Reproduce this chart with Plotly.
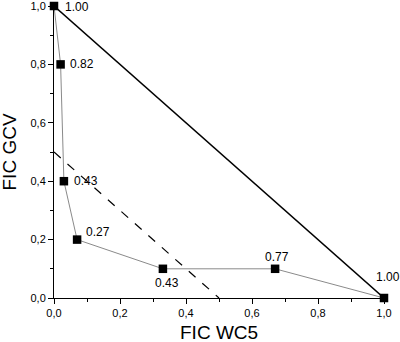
import plotly.graph_objects as go

fic_wc5 = [0.0, 0.02, 0.03, 0.07, 0.33, 0.67, 1.0]
fic_gcv = [1.0, 0.8, 0.4, 0.2, 0.1, 0.1, 0.0]
point_labels = ["1.00", "0.82", "0.43", "0.27", "0.43", "0.77", "1.00"]

additive_x = [0.0, 1.0]
additive_y = [1.0, 0.0]
synergy_x = [0.0, 0.5]
synergy_y = [0.5, 0.0]

FONT = "Liberation Sans, Arial"

# label offsets in pixels (style)
label_dx = [23, 21, 22, 21, 4, 2, 4]
label_dy = [-1, 0, 0, 8, -14, 12, 21]

fig = go.Figure()
fig.add_trace(go.Scatter(x=additive_x, y=additive_y, mode="lines",
                         line=dict(color="black", width=1.5), cliponaxis=False))
fig.add_trace(go.Scatter(x=synergy_x, y=synergy_y, mode="lines",
                         line=dict(color="black", width=1.2, dash="dash"), cliponaxis=False))
fig.add_trace(go.Scatter(x=fic_wc5, y=fic_gcv, mode="lines+markers",
                         line=dict(color="#8a8a8a", width=1),
                         marker=dict(symbol="square", size=8.5, color="black"),
                         cliponaxis=False))

for xv, yv, t, dx, dy in zip(fic_wc5, fic_gcv, point_labels, label_dx, label_dy):
    fig.add_annotation(x=xv, y=yv, text=t, showarrow=False, xanchor="center",
                       yanchor="middle", xshift=dx, yshift=dy,
                       font=dict(family=FONT, size=12, color="black"))

axis_common = dict(
    range=[0, 1], tickvals=[0, 0.2, 0.4, 0.6, 0.8, 1.0], tickformat=".1f",
    showgrid=False, zeroline=False, showline=True, linecolor="black", linewidth=1,
    ticks="outside", ticklen=5, tickcolor="black", tickwidth=1,
    minor=dict(ticks="outside", ticklen=3, dtick=0.1, tickcolor="black", showgrid=False),
    tickfont=dict(family=FONT, size=11, color="black"),
    automargin=False, ticklabeloverflow="allow",
)
fig.update_xaxes(**axis_common)
fig.update_yaxes(**axis_common)

fig.add_annotation(text="FIC WC5", xref="paper", yref="paper", x=0.5, y=0,
                   xanchor="center", yanchor="middle", yshift=-34, showarrow=False,
                   font=dict(family=FONT, size=19, color="black"))
fig.add_annotation(text="FIC GCV", xref="paper", yref="paper", x=0, y=0.5,
                   xanchor="center", yanchor="middle", xshift=-45.5, textangle=-90,
                   showarrow=False, font=dict(family=FONT, size=19, color="black"))

fig.update_layout(
    width=400, height=342, showlegend=False,
    separators=",.",
    margin=dict(l=54, r=16, t=6, b=44),
    paper_bgcolor="white", plot_bgcolor="white",
)
fig.write_html("out.html", config={"displayModeBar": False},
               post_script="document.body.style.margin='0';document.body.style.overflow='hidden';")
